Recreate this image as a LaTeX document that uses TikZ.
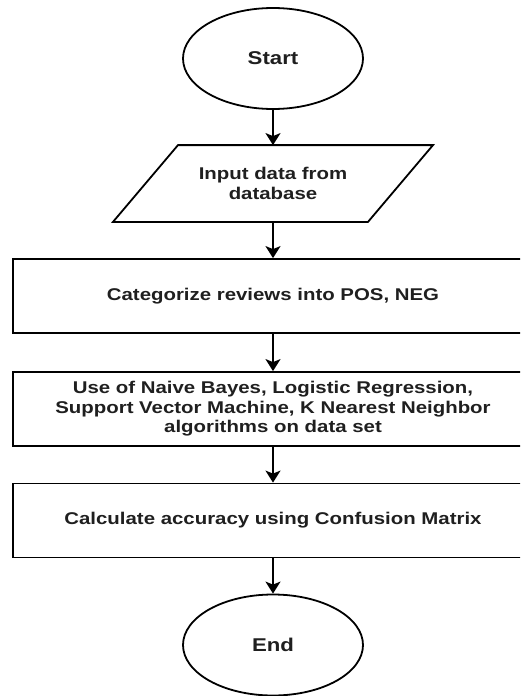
\documentclass[tikz,border=0pt]{standalone}
\usepackage{fontspec}
\newfontfamily\lab[FakeStretch=1.2]{Liberation Sans}
\usetikzlibrary{shapes.geometric,arrows.meta,calc}
\begin{document}
\begin{tikzpicture}[x=1pt,y=-1pt,
  line width=1.8pt,
  txt/.style={font=\lab\bfseries\fontsize{17}{19.5}\selectfont, text=black!88, align=center},
  term/.style={ellipse, draw, minimum width=180pt, minimum height=101pt, inner sep=0pt, txt, font=\lab\bfseries\fontsize{18.5}{21}\selectfont},
  proc/.style={rectangle, draw, minimum width=520pt, minimum height=74pt, inner sep=0pt, txt},
  flow/.style={-{Stealth[length=12pt,width=15pt,inset=3pt]}, line width=1.8pt}
]
\useasboundingbox (0,0) rectangle (520,696);
\clip (0,0) rectangle (520,696);
\node[term] (start) at (273,58.5) {Start};
\node[txt, minimum width=190pt, minimum height=75pt, inner sep=0pt] (inp) at (273,183.5) {Input data from\\database};
\draw ([shift={(-95,0)}]inp.north) -- ([shift={(160,0)}]inp.north) -- ([shift={(95,0)}]inp.south) -- ([shift={(-160,0)}]inp.south) -- cycle;
\node[proc] (cat) at (273,296) {Categorize reviews into POS, NEG};
\node[proc] (alg) at (273,409) {Use of Naive Bayes, Logistic Regression,\\Support Vector Machine, K Nearest Neighbor\\algorithms on data set};
\node[proc] (acc) at (273,520.5) {Calculate accuracy using Confusion Matrix};
\node[term] (end) at (273,645) {End};
\draw[flow] (start) -- (inp);
\draw[flow] (inp) -- (cat);
\draw[flow] (cat) -- (alg);
\draw[flow] (alg) -- (acc);
\draw[flow] (acc) -- (end);
\end{tikzpicture}
\end{document}
